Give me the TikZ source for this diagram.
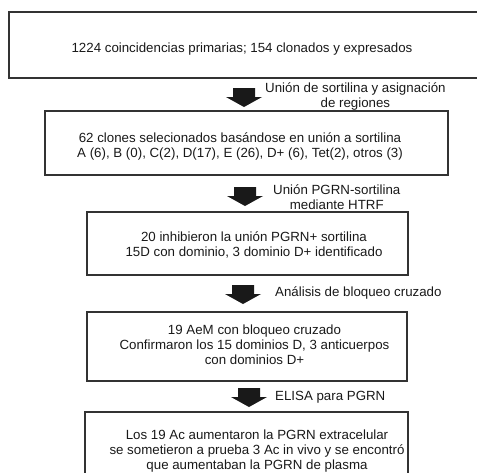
\documentclass[tikz,border=0pt]{standalone}
\usepackage{fontspec}
\setmainfont{Liberation Sans}
\usetikzlibrary{calc}
\tikzset{
	caja/.style={draw=black!80, line width=1.1pt, inner sep=0pt},
	texto/.style={inner sep=0pt, align=center, text=black!90, font=\fontsize{13.3}{15}\selectfont},
	rotulo/.style={texto, anchor=west}
}
\def\flecha(#1){\fill[black!90] ($(#1)+(-11,0)$) -- ++(22,0) -- ++(0,9) -- ++(7,0) -- ++(-18,10) -- ++(-18,-10) -- ++(7,0) -- cycle;}

\begin{document}
\begin{tikzpicture}[x=1pt, y=-1pt]
		%%%%% START %%%%%
		
		\useasboundingbox (0, 0) rectangle (477, 472);
		\clip (0, 0) rectangle (477, 472);
		
		\node[caja, minimum width=471, minimum height=66] (c1) at (244.5, 45) {};
		\node[texto] (t1) at (242, 49) {1224 coincidencias primarias; 154 clonados y expresados};
		
		\coordinate (a1) at (244, 88);
		\flecha(a1);
		\node[rotulo] (l1) at (265, 96) {Unión de sortilina y asignación\\de regiones};
		
		\node[caja, minimum width=403, minimum height=64] (c2) at (246.5, 143) {};
		\node[texto] (t2) at (240, 146) {62 clones selecionados basándose en unión a sortilina\\A (6), B (0), C(2), D(17), E (26), D+ (6), Tet(2), otros (3)};
		
		\coordinate (a2) at (245, 187);
		\flecha(a2);
		\node[rotulo] (l2) at (273, 197.5) {Unión PGRN-sortilina\\mediante HTRF};
		
		\node[caja, minimum width=321, minimum height=63] (c3) at (247.5, 243.5) {};
		\node[texto] (t3) at (254, 244.5) {20 inhibieron la unión PGRN+ sortilina\\15D con dominio, 3 dominio D+ identificado};
		
		\coordinate (a3) at (243, 285);
		\flecha(a3);
		\node[rotulo] (l3) at (275, 293) {Análisis de bloqueo cruzado};
		
		\node[caja, minimum width=320, minimum height=69] (c4) at (247, 346.5) {};
		\node[texto] (t4) at (254.5, 345) {19 AeM con bloqueo cruzado\\Confirmaron los 15 dominios D, 3 anticuerpos\\con dominios D+};
		
		\coordinate (a4) at (249, 388);
		\flecha(a4);
		\node[rotulo] (l4) at (275, 397) {ELISA para PGRN};
		
		\node[caja, minimum width=323, minimum height=78] (c5) at (246.5, 451) {};
		\node[texto] (t5) at (257, 451) {Los 19 Ac aumentaron la PGRN extracelular\\se sometieron a prueba 3 Ac in vivo y se encontró\\que aumentaban la PGRN de plasma};
		
		%%%%% END %%%%%
	\end{tikzpicture}
\end{document}
